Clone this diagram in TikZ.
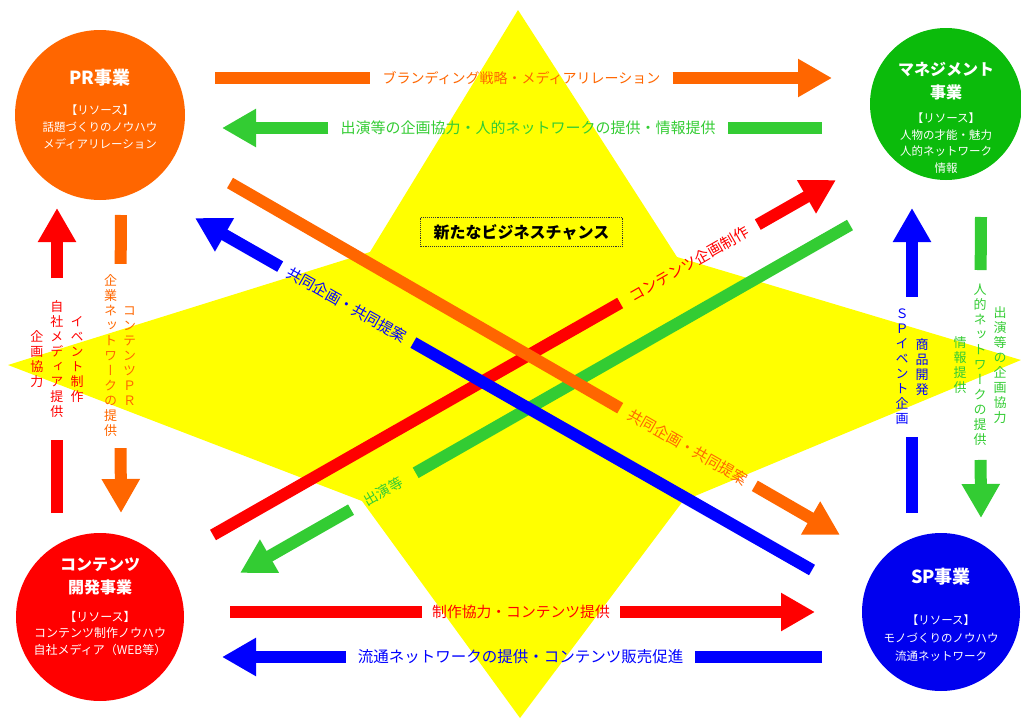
\documentclass[tikz,border=0pt]{standalone}
\usepackage{fontspec}
\usetikzlibrary{arrows.meta,calc}
\newfontfamily\jp{Noto Sans CJK JP}
\newfontfamily\jpv[RawFeature=+vert]{Noto Sans CJK JP}
\definecolor{cor}{HTML}{FF6600}
\definecolor{cgr}{HTML}{33CC33}
\definecolor{cgrc}{HTML}{0BBB0B}
\definecolor{cre}{HTML}{FF0000}
\definecolor{cbl}{HTML}{0000FF}
\definecolor{cblc}{HTML}{0000EE}
\definecolor{cyl}{HTML}{FFFF00}
\newcommand\vcol[1]{$\vcenter{\baselineskip=15pt\lineskiplimit=-50pt\lineskip=0pt\halign{\hfil##\hfil\cr#1\crcr}}$}
\begin{document}
\begin{tikzpicture}[x=1pt,y=-1pt,
  circ/.style={circle,inner sep=0pt},
  ttl/.style={text=white,align=center,font=\jp\bfseries\fontsize{17}{23}\selectfont},
  res/.style={text=white,align=center,font=\jp\fontsize{11.5}{17}\selectfont},
  bar/.style={line width=12pt},
  fat/.style={line width=12pt,-{Triangle[width=36pt,length=34pt]}},
  hlab/.style={inner xsep=12pt,inner ysep=1pt},
  vlab/.style={inner xsep=0pt,font=\jpv\fontsize{13}{15}\selectfont},
  dlab/.style={inner ysep=1pt,font=\jp\fontsize{15}{15}\selectfont},
]
\useasboundingbox (0,0) rectangle (1021,720);
% yellow star
\fill[cyl] (518,10) -- (677,257) -- (1021,360) -- (683,501) -- (520,718)
  -- (362,501) -- (8,365) -- (370,252) -- cycle;

% circles
\node[circ,fill=cor,minimum size=170pt] (pr) at (100,115) {};
\node[ttl,font=\jp\bfseries\fontsize{18}{23}\selectfont] (prt) at (100,78) {PR事業};
\node[res] (prr) at (100,127) {【リソース】\\話題づくりのノウハウ\\メディアリレーション};

\node[circ,fill=cgrc,minimum size=152pt] (mg) at (946,104) {};
\node[ttl,font=\jp\bfseries\fontsize{16}{23}\selectfont] (mgt) at (946,81.5) {マネジメント\\事業};
\node[res,font=\jp\fontsize{11.5}{16.7}\selectfont] (mgr) at (946,143) {【リソース】\\人物の才能・魅力\\人的ネットワーク\\情報};

\node[circ,fill=cre,minimum size=168pt] (ct) at (100,617) {};
\node[ttl,font=\jp\bfseries\fontsize{16}{23}\selectfont] (ctt) at (100,576.5) {コンテンツ\\開発事業};
\node[res,font=\jp\fontsize{12}{16.5}\selectfont] (ctr) at (100,633) {【リソース】\\コンテンツ制作ノウハウ\\自社メディア（WEB等）};

\node[circ,fill=cblc,minimum size=158pt] (sp) at (941,612) {};
\node[ttl,font=\jp\bfseries\fontsize{18}{23}\selectfont] (spt) at (941,577) {SP事業};
\node[res,font=\jp\fontsize{11.5}{18}\selectfont] (spr) at (941,638) {【リソース】\\モノづくりのノウハウ\\流通ネットワーク};

% top orange arrow
\coordinate (o1s) at (215,78); \coordinate (o1e) at (832,78);
\node[hlab,text=cor,font=\jp\fontsize{14}{14}\selectfont] (o1l) at (521.5,78) {ブランディング戦略・メディアリレーション};
\draw[bar,cor] (o1s) -- (o1l);
\draw[fat,cor] (o1l) -- (o1e);

% top green arrow
\coordinate (g1s) at (822,128); \coordinate (g1e) at (222,128);
\node[hlab,text=cgr,font=\jp\fontsize{15}{15}\selectfont] (g1l) at (528,128) {出演等の企画協力・人的ネットワークの提供・情報提供};
\draw[bar,cgr] (g1s) -- (g1l);
\draw[fat,cgr] (g1l) -- (g1e);

% bottom red arrow
\coordinate (r1s) at (230,612); \coordinate (r1e) at (815,612);
\node[hlab,inner xsep=10pt,text=cre,font=\jp\fontsize{14.8}{15}\selectfont] (r1l) at (521,612) {制作協力・コンテンツ提供};
\draw[bar,cre] (r1s) -- (r1l);
\draw[fat,cre] (r1l) -- (r1e);

% bottom blue arrow
\coordinate (b1s) at (822,657); \coordinate (b1e) at (222,657);
\node[hlab,text=cbl,font=\jp\fontsize{15.5}{16}\selectfont] (b1l) at (520.5,657) {流通ネットワークの提供・コンテンツ販売促進};
\draw[bar,cbl] (b1s) -- (b1l);
\draw[fat,cbl] (b1l) -- (b1e);

% left red vertical arrow (up)
\coordinate (r2s) at (57,513); \coordinate (r2e) at (57,208);
\node[vlab,inner ysep=22pt,text=cre] (r2l) at (57,359)
  {\vcol{企\cr 画\cr 協\cr 力}\hspace{7pt}\vcol{自\cr 社\cr メ\cr デ\cr ィ\cr ア\cr 提\cr 供}\hspace{7pt}\vcol{イ\cr ベ\cr ン\cr ト\cr 制\cr 作}};
\draw[bar,cre] (r2s) -- (r2l);
\draw[fat,cre] (r2l) -- (r2e);

% left orange vertical arrow (down)
\coordinate (o2s) at (121,215); \coordinate (o2e) at (121,513);
\node[vlab,inner ysep=11pt,text=cor] (o2l) at (120,356)
  {\vcol{企\cr 業\cr ネ\cr ッ\cr ト\cr ワ\cr ー\cr ク\cr の\cr 提\cr 供}\hspace{6pt}\vcol{コ\cr ン\cr テ\cr ン\cr ツ\cr Ｐ\cr Ｒ}};
\draw[bar,cor] (o2s) -- (o2l);
\draw[fat,cor] (o2l) -- (o2e);

% right blue vertical arrow (up)
\coordinate (b2s) at (912,513); \coordinate (b2e) at (912,208);
\node[vlab,inner ysep=12pt,text=cbl] (b2l) at (912,367)
  {\vcol{Ｓ\cr Ｐ\cr イ\cr ベ\cr ン\cr ト\cr 企\cr 画}\hspace{7pt}\vcol{商\cr 品\cr 開\cr 発}};
\draw[bar,cbl] (b2s) -- (b2l);
\draw[fat,cbl] (b2l) -- (b2e);

% right green vertical arrow (down)
\coordinate (g2s) at (981,217); \coordinate (g2e) at (981,518);
\node[vlab,inner ysep=14pt,text=cgr] (g2l) at (980,365)
  {\vcol{情\cr 報\cr 提\cr 供}\hspace{7pt}\vcol{人\cr 的\cr ネ\cr ッ\cr ト\cr ワ\cr ー\cr ク\cr の\cr 提\cr 供}\hspace{7pt}\vcol{出\cr 演\cr 等\cr の\cr 企\cr 画\cr 協\cr 力}};
\draw[bar,cgr] (g2s) -- (g2l);
\draw[fat,cgr] (g2l) -- (g2e);

% diagonal red (up-right)
\coordinate (r3s) at (213,535); \coordinate (r3e) at (836,180);
\node[dlab,inner xsep=11.5pt,text=cre,rotate=29.7] (r3l) at ($(r3s)!0.764!(r3e)$) {コンテンツ企画制作};
\draw[bar,cre] (r3s) -- (r3l);
\draw[fat,cre] (r3l) -- (r3e);

% diagonal green (down-left)
\coordinate (g3s) at (850,225); \coordinate (g3e) at (240,573);
\node[dlab,inner xsep=16pt,text=cgr,font=\jp\fontsize{14}{14}\selectfont,rotate=29.7] (g3l) at ($(g3s)!0.765!(g3e)$) {出演等};
\draw[bar,cgr] (g3s) -- (g3l);
\draw[fat,cgr] (g3l) -- (g3e);

% diagonal orange (down-right)
\coordinate (o3s) at (230,183); \coordinate (o3e) at (840,535);
\node[dlab,inner xsep=10pt,text=cor,rotate=-30] (o3l) at ($(o3s)!0.75!(o3e)$) {共同企画・共同提案};
\draw[bar,cor] (o3s) -- (o3l);
\draw[fat,cor] (o3l) -- (o3e);

% diagonal blue (up-left)
\coordinate (b3s) at (812,570); \coordinate (b3e) at (195,218);
\node[dlab,inner xsep=9pt,text=cbl,rotate=-29.7] (b3l) at ($(b3s)!0.754!(b3e)$) {共同企画・共同提案};
\draw[bar,cbl] (b3s) -- (b3l);
\draw[fat,cbl] (b3l) -- (b3e);

% centre box
\node[draw=black!80,densely dotted,line width=0.9pt,inner xsep=13pt,inner ysep=7pt,
  font=\jp\bfseries\fontsize{16}{16}\selectfont] (nb) at (521.5,232) {新たなビジネスチャンス};
\end{tikzpicture}
\end{document}
